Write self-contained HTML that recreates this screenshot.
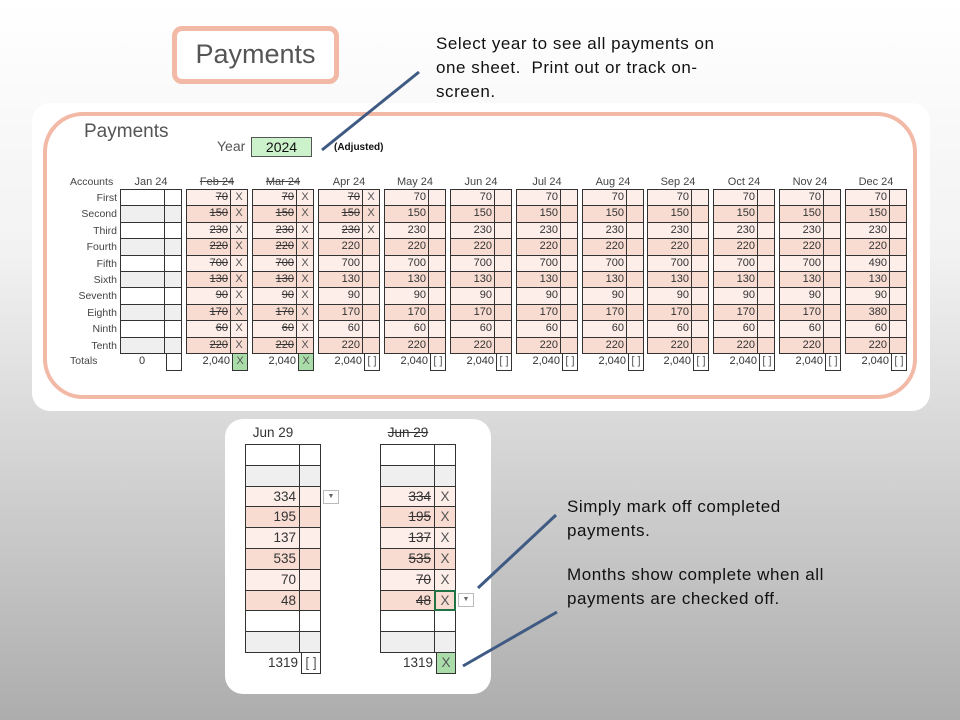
<!DOCTYPE html>
<html><head><meta charset="utf-8"><style>
*{margin:0;padding:0;box-sizing:border-box}
body{width:960px;height:720px;overflow:hidden;position:relative;font-family:"Liberation Sans",sans-serif;background:linear-gradient(#fff 0%,#f2f2f2 35%,#c8c8c8 75%,#adadad 100%)}
.a{position:absolute}
.m{position:absolute;top:175px;width:62px;font-size:11px;color:#333}
.m .h{height:14px;text-align:center;line-height:14px;color:#444}
.m .g{border:1px solid #333;border-bottom:none}
.m .r{height:16.4px;display:flex;border-bottom:1px solid #333}
.m .v{flex:1;text-align:right;padding-right:2px;line-height:15px;border-right:1px solid #333}
.m .c{width:16px;text-align:center;line-height:15px;color:#555}
.l{background:#fdeee9}.d{background:#f8dcd2}.w{background:#fff}.gr{background:#efefef}
.s{text-decoration:line-through}
.t{display:flex;height:17px;line-height:16px}
.t .v{flex:1;text-align:right;padding-right:2px;border:none}
.t .c{width:16px;border:1px solid #333;border-top:none;text-align:center}
.acc{position:absolute;left:60px;font-size:10.5px;color:#444;text-align:right;width:57px}
.b{position:absolute;width:76px;font-size:13.5px;color:#333}
.b .g{border:1px solid #333;border-bottom:none}
.b .r{height:20.8px;display:flex;border-bottom:1px solid #333}
.b .v{flex:1;text-align:right;padding-right:3px;line-height:20px;border-right:1px solid #333}
.b .c{width:20px;text-align:center;line-height:20px;color:#555}
.ct{position:absolute;font-size:17px;line-height:24px;color:#111;width:360px;letter-spacing:0.55px}
</style></head><body>
<div class="a" style="left:172px;top:26px;width:167px;height:58px;border:5px solid #f2b9a6;border-radius:10px;background:#fff;text-align:center;font-size:27px;line-height:46px;color:#555">Payments</div>
<div class="ct" style="left:436px;top:32px">Select year to see all payments on<br>one sheet.&nbsp; Print out or track on-<br>screen.</div>
<div class="a" style="left:32px;top:103px;width:898px;height:308px;background:#fff;border-radius:18px"></div>
<div class="a" style="left:43px;top:112px;width:874px;height:287px;border:4px solid #f2b9a6;border-radius:40px"></div>
<div class="a" style="left:84px;top:121px;font-size:19px;color:#555">Payments</div>
<div class="a" style="left:217px;top:138px;font-size:14px;color:#555">Year</div>
<div class="a" style="left:251px;top:137px;width:61px;height:20px;background:#ccf2cc;border:1px solid #555;text-align:center;font-size:14px;line-height:18px;color:#111">2024</div>
<div class="a" style="left:334px;top:142px;font-size:10px;font-weight:bold;color:#111">(Adjusted)</div>
<div class="acc" style="top:176px;text-align:left;left:70px">Accounts</div>
<div class="acc" style="top:190px;line-height:16.4px">First<br>Second<br>Third<br>Fourth<br>Fifth<br>Sixth<br>Seventh<br>Eighth<br>Ninth<br>Tenth</div>
<div class="acc" style="top:355px;left:70px;text-align:left">Totals</div>

<div class="m" style="left:120px"><div class="h">Jan 24</div><div class="g">
<div class="r w"><div class="v"></div><div class="c"></div></div><div class="r gr"><div class="v"></div><div class="c"></div></div><div class="r w"><div class="v"></div><div class="c"></div></div><div class="r gr"><div class="v"></div><div class="c"></div></div><div class="r w"><div class="v"></div><div class="c"></div></div><div class="r gr"><div class="v"></div><div class="c"></div></div><div class="r w"><div class="v"></div><div class="c"></div></div><div class="r gr"><div class="v"></div><div class="c"></div></div><div class="r w"><div class="v"></div><div class="c"></div></div><div class="r gr"><div class="v"></div><div class="c"></div></div></div>
<div class="t"><div class="v" style="text-align:center;padding-left:0">0</div><div class="c"></div></div></div>

<div class="m" style="left:186px"><div class="h s">Feb 24</div><div class="g">
<div class="r l"><div class="v s">70</div><div class="c">X</div></div><div class="r d"><div class="v s">150</div><div class="c">X</div></div><div class="r l"><div class="v s">230</div><div class="c">X</div></div><div class="r d"><div class="v s">220</div><div class="c">X</div></div><div class="r l"><div class="v s">700</div><div class="c">X</div></div><div class="r d"><div class="v s">130</div><div class="c">X</div></div><div class="r l"><div class="v s">90</div><div class="c">X</div></div><div class="r d"><div class="v s">170</div><div class="c">X</div></div><div class="r l"><div class="v s">60</div><div class="c">X</div></div><div class="r d"><div class="v s">220</div><div class="c">X</div></div></div>
<div class="t"><div class="v">2,040</div><div class="c" style="background:#a9dca9">X</div></div></div>

<div class="m" style="left:252px"><div class="h s">Mar 24</div><div class="g">
<div class="r l"><div class="v s">70</div><div class="c">X</div></div><div class="r d"><div class="v s">150</div><div class="c">X</div></div><div class="r l"><div class="v s">230</div><div class="c">X</div></div><div class="r d"><div class="v s">220</div><div class="c">X</div></div><div class="r l"><div class="v s">700</div><div class="c">X</div></div><div class="r d"><div class="v s">130</div><div class="c">X</div></div><div class="r l"><div class="v s">90</div><div class="c">X</div></div><div class="r d"><div class="v s">170</div><div class="c">X</div></div><div class="r l"><div class="v s">60</div><div class="c">X</div></div><div class="r d"><div class="v s">220</div><div class="c">X</div></div></div>
<div class="t"><div class="v">2,040</div><div class="c" style="background:#a9dca9">X</div></div></div>

<div class="m" style="left:318px"><div class="h">Apr 24</div><div class="g">
<div class="r l"><div class="v s">70</div><div class="c">X</div></div><div class="r d"><div class="v s">150</div><div class="c">X</div></div><div class="r l"><div class="v s">230</div><div class="c">X</div></div><div class="r d"><div class="v">220</div><div class="c"></div></div><div class="r l"><div class="v">700</div><div class="c"></div></div><div class="r d"><div class="v">130</div><div class="c"></div></div><div class="r l"><div class="v">90</div><div class="c"></div></div><div class="r d"><div class="v">170</div><div class="c"></div></div><div class="r l"><div class="v">60</div><div class="c"></div></div><div class="r d"><div class="v">220</div><div class="c"></div></div></div>
<div class="t"><div class="v">2,040</div><div class="c">[ ]</div></div></div>

<div class="m" style="left:384px"><div class="h">May 24</div><div class="g">
<div class="r l"><div class="v">70</div><div class="c"></div></div><div class="r d"><div class="v">150</div><div class="c"></div></div><div class="r l"><div class="v">230</div><div class="c"></div></div><div class="r d"><div class="v">220</div><div class="c"></div></div><div class="r l"><div class="v">700</div><div class="c"></div></div><div class="r d"><div class="v">130</div><div class="c"></div></div><div class="r l"><div class="v">90</div><div class="c"></div></div><div class="r d"><div class="v">170</div><div class="c"></div></div><div class="r l"><div class="v">60</div><div class="c"></div></div><div class="r d"><div class="v">220</div><div class="c"></div></div></div>
<div class="t"><div class="v">2,040</div><div class="c">[ ]</div></div></div>

<div class="m" style="left:450px"><div class="h">Jun 24</div><div class="g">
<div class="r l"><div class="v">70</div><div class="c"></div></div><div class="r d"><div class="v">150</div><div class="c"></div></div><div class="r l"><div class="v">230</div><div class="c"></div></div><div class="r d"><div class="v">220</div><div class="c"></div></div><div class="r l"><div class="v">700</div><div class="c"></div></div><div class="r d"><div class="v">130</div><div class="c"></div></div><div class="r l"><div class="v">90</div><div class="c"></div></div><div class="r d"><div class="v">170</div><div class="c"></div></div><div class="r l"><div class="v">60</div><div class="c"></div></div><div class="r d"><div class="v">220</div><div class="c"></div></div></div>
<div class="t"><div class="v">2,040</div><div class="c">[ ]</div></div></div>

<div class="m" style="left:516px"><div class="h">Jul 24</div><div class="g">
<div class="r l"><div class="v">70</div><div class="c"></div></div><div class="r d"><div class="v">150</div><div class="c"></div></div><div class="r l"><div class="v">230</div><div class="c"></div></div><div class="r d"><div class="v">220</div><div class="c"></div></div><div class="r l"><div class="v">700</div><div class="c"></div></div><div class="r d"><div class="v">130</div><div class="c"></div></div><div class="r l"><div class="v">90</div><div class="c"></div></div><div class="r d"><div class="v">170</div><div class="c"></div></div><div class="r l"><div class="v">60</div><div class="c"></div></div><div class="r d"><div class="v">220</div><div class="c"></div></div></div>
<div class="t"><div class="v">2,040</div><div class="c">[ ]</div></div></div>

<div class="m" style="left:582px"><div class="h">Aug 24</div><div class="g">
<div class="r l"><div class="v">70</div><div class="c"></div></div><div class="r d"><div class="v">150</div><div class="c"></div></div><div class="r l"><div class="v">230</div><div class="c"></div></div><div class="r d"><div class="v">220</div><div class="c"></div></div><div class="r l"><div class="v">700</div><div class="c"></div></div><div class="r d"><div class="v">130</div><div class="c"></div></div><div class="r l"><div class="v">90</div><div class="c"></div></div><div class="r d"><div class="v">170</div><div class="c"></div></div><div class="r l"><div class="v">60</div><div class="c"></div></div><div class="r d"><div class="v">220</div><div class="c"></div></div></div>
<div class="t"><div class="v">2,040</div><div class="c">[ ]</div></div></div>

<div class="m" style="left:647px"><div class="h">Sep 24</div><div class="g">
<div class="r l"><div class="v">70</div><div class="c"></div></div><div class="r d"><div class="v">150</div><div class="c"></div></div><div class="r l"><div class="v">230</div><div class="c"></div></div><div class="r d"><div class="v">220</div><div class="c"></div></div><div class="r l"><div class="v">700</div><div class="c"></div></div><div class="r d"><div class="v">130</div><div class="c"></div></div><div class="r l"><div class="v">90</div><div class="c"></div></div><div class="r d"><div class="v">170</div><div class="c"></div></div><div class="r l"><div class="v">60</div><div class="c"></div></div><div class="r d"><div class="v">220</div><div class="c"></div></div></div>
<div class="t"><div class="v">2,040</div><div class="c">[ ]</div></div></div>

<div class="m" style="left:713px"><div class="h">Oct 24</div><div class="g">
<div class="r l"><div class="v">70</div><div class="c"></div></div><div class="r d"><div class="v">150</div><div class="c"></div></div><div class="r l"><div class="v">230</div><div class="c"></div></div><div class="r d"><div class="v">220</div><div class="c"></div></div><div class="r l"><div class="v">700</div><div class="c"></div></div><div class="r d"><div class="v">130</div><div class="c"></div></div><div class="r l"><div class="v">90</div><div class="c"></div></div><div class="r d"><div class="v">170</div><div class="c"></div></div><div class="r l"><div class="v">60</div><div class="c"></div></div><div class="r d"><div class="v">220</div><div class="c"></div></div></div>
<div class="t"><div class="v">2,040</div><div class="c">[ ]</div></div></div>

<div class="m" style="left:779px"><div class="h">Nov 24</div><div class="g">
<div class="r l"><div class="v">70</div><div class="c"></div></div><div class="r d"><div class="v">150</div><div class="c"></div></div><div class="r l"><div class="v">230</div><div class="c"></div></div><div class="r d"><div class="v">220</div><div class="c"></div></div><div class="r l"><div class="v">700</div><div class="c"></div></div><div class="r d"><div class="v">130</div><div class="c"></div></div><div class="r l"><div class="v">90</div><div class="c"></div></div><div class="r d"><div class="v">170</div><div class="c"></div></div><div class="r l"><div class="v">60</div><div class="c"></div></div><div class="r d"><div class="v">220</div><div class="c"></div></div></div>
<div class="t"><div class="v">2,040</div><div class="c">[ ]</div></div></div>

<div class="m" style="left:845px"><div class="h">Dec 24</div><div class="g">
<div class="r l"><div class="v">70</div><div class="c"></div></div><div class="r d"><div class="v">150</div><div class="c"></div></div><div class="r l"><div class="v">230</div><div class="c"></div></div><div class="r d"><div class="v">220</div><div class="c"></div></div><div class="r l"><div class="v">490</div><div class="c"></div></div><div class="r d"><div class="v">130</div><div class="c"></div></div><div class="r l"><div class="v">90</div><div class="c"></div></div><div class="r d"><div class="v">380</div><div class="c"></div></div><div class="r l"><div class="v">60</div><div class="c"></div></div><div class="r d"><div class="v">220</div><div class="c"></div></div></div>
<div class="t"><div class="v">2,040</div><div class="c">[ ]</div></div></div>

<div class="a" style="left:225px;top:419px;width:266px;height:275px;background:#fff;border-radius:18px"></div>

<div class="b" style="left:245px;top:425px"><div style="height:19px;text-align:center;padding-right:20px">Jun 29</div><div class="g">
<div class="r w"><div class="v"></div><div class="c"></div></div><div class="r gr"><div class="v"></div><div class="c"></div></div>
<div class="r l"><div class="v">334</div><div class="c"></div></div><div class="r d"><div class="v">195</div><div class="c"></div></div><div class="r l"><div class="v">137</div><div class="c"></div></div><div class="r d"><div class="v">535</div><div class="c"></div></div><div class="r l"><div class="v">70</div><div class="c"></div></div><div class="r d"><div class="v">48</div><div class="c"></div></div>
<div class="r w"><div class="v"></div><div class="c"></div></div><div class="r gr"><div class="v"></div><div class="c"></div></div></div>
<div style="display:flex;height:21px;line-height:20px"><div style="flex:1;text-align:right;padding-right:3px">1319</div><div style="width:20px;border:1px solid #333;border-top:none;text-align:center;color:#555">[ ]</div></div></div>
<div class="a" style="left:323px;top:490px;width:16px;height:14px;border:1px solid #bbb;background:#fff;font-size:7px;text-align:center;line-height:12px;color:#666">▼</div>

<div class="b" style="left:380px;top:425px"><div style="height:19px;text-align:center;padding-right:20px" class="s">Jun 29</div><div class="g">
<div class="r w"><div class="v"></div><div class="c"></div></div><div class="r gr"><div class="v"></div><div class="c"></div></div>
<div class="r l"><div class="v s">334</div><div class="c">X</div></div><div class="r d"><div class="v s">195</div><div class="c">X</div></div><div class="r l"><div class="v s">137</div><div class="c">X</div></div><div class="r d"><div class="v s">535</div><div class="c">X</div></div><div class="r l"><div class="v s">70</div><div class="c">X</div></div><div class="r d"><div class="v s">48</div><div class="c" style="outline:2px solid #217346;outline-offset:-1px">X</div></div>
<div class="r w"><div class="v"></div><div class="c"></div></div><div class="r gr"><div class="v"></div><div class="c"></div></div></div>
<div style="display:flex;height:21px;line-height:20px"><div style="flex:1;text-align:right;padding-right:3px">1319</div><div style="width:20px;border:1px solid #333;border-top:none;text-align:center;background:#a9dca9;color:#555">X</div></div></div>
<div class="a" style="left:458px;top:593px;width:16px;height:14px;border:1px solid #bbb;background:#fff;font-size:7px;text-align:center;line-height:12px;color:#666">▼</div>

<div class="ct" style="left:567px;top:495px">Simply mark off completed<br>payments.</div>
<div class="ct" style="left:567px;top:563px">Months show complete when all<br>payments are checked off.</div>
<svg class="a" style="left:0;top:0" width="960" height="720"><g stroke="#3f5a83" stroke-width="3"><line x1="322" y1="150" x2="419" y2="72"/><line x1="478" y1="588" x2="556" y2="515"/><line x1="463" y1="666" x2="557" y2="612"/></g></svg>
</body></html>
